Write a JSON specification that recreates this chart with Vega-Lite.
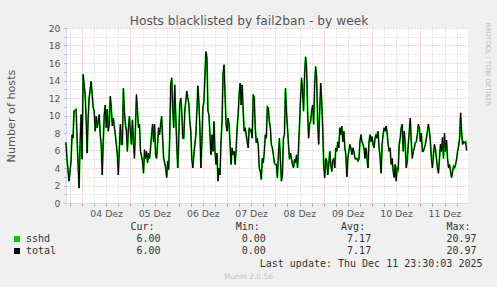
{
  "$schema": "https://vega.github.io/schema/vega-lite/v6.json",
  "width": 402,
  "height": 175,
  "autosize": {"type": "none"},
  "padding": {"left": 66, "top": 28, "right": 29, "bottom": 84},
  "background": "#f0f0f0",
  "config": {
    "view": {"fill": "#ffffff", "stroke": null},
    "font": "DejaVu Sans"
  },
  "datasets": {
    "series": [
      {"t": "2025-12-03T16:00", "sshd": 6.9, "total": 6.9},
      {"t": "2025-12-03T16:30", "sshd": 5.0, "total": 5.0},
      {"t": "2025-12-03T17:30", "sshd": 2.5, "total": 2.5},
      {"t": "2025-12-03T18:30", "sshd": 4.8, "total": 4.8},
      {"t": "2025-12-03T19:00", "sshd": 7.8, "total": 7.8},
      {"t": "2025-12-03T19:30", "sshd": 7.4, "total": 7.4},
      {"t": "2025-12-03T20:00", "sshd": 10.5, "total": 10.5},
      {"t": "2025-12-03T21:00", "sshd": 10.7, "total": 10.7},
      {"t": "2025-12-03T21:30", "sshd": 7.4, "total": 7.4},
      {"t": "2025-12-03T22:00", "sshd": 4.4, "total": 4.4},
      {"t": "2025-12-03T22:30", "sshd": 1.7, "total": 1.7},
      {"t": "2025-12-03T23:00", "sshd": 6.7, "total": 6.7},
      {"t": "2025-12-03T23:30", "sshd": 10.1, "total": 10.1},
      {"t": "2025-12-04T00:00", "sshd": 5.0, "total": 5.0},
      {"t": "2025-12-04T00:30", "sshd": 14.7, "total": 14.7},
      {"t": "2025-12-04T01:30", "sshd": 12.4, "total": 12.4},
      {"t": "2025-12-04T02:00", "sshd": 9.7, "total": 9.7},
      {"t": "2025-12-04T02:30", "sshd": 5.7, "total": 5.7},
      {"t": "2025-12-04T03:00", "sshd": 9.7, "total": 9.7},
      {"t": "2025-12-04T03:30", "sshd": 12.0, "total": 12.0},
      {"t": "2025-12-04T04:30", "sshd": 13.9, "total": 13.9},
      {"t": "2025-12-04T05:00", "sshd": 12.4, "total": 12.4},
      {"t": "2025-12-04T05:30", "sshd": 10.9, "total": 10.9},
      {"t": "2025-12-04T06:00", "sshd": 10.5, "total": 10.5},
      {"t": "2025-12-04T06:30", "sshd": 8.2, "total": 8.2},
      {"t": "2025-12-04T07:00", "sshd": 9.9, "total": 9.9},
      {"t": "2025-12-04T07:30", "sshd": 8.6, "total": 8.6},
      {"t": "2025-12-04T08:30", "sshd": 10.1, "total": 10.1},
      {"t": "2025-12-04T09:00", "sshd": 7.8, "total": 7.8},
      {"t": "2025-12-04T09:30", "sshd": 6.7, "total": 6.7},
      {"t": "2025-12-04T10:00", "sshd": 3.2, "total": 3.2},
      {"t": "2025-12-04T10:30", "sshd": 6.9, "total": 6.9},
      {"t": "2025-12-04T11:00", "sshd": 10.1, "total": 10.1},
      {"t": "2025-12-04T11:30", "sshd": 11.2, "total": 11.2},
      {"t": "2025-12-04T12:00", "sshd": 8.6, "total": 8.6},
      {"t": "2025-12-04T12:30", "sshd": 10.7, "total": 10.7},
      {"t": "2025-12-04T13:00", "sshd": 8.2, "total": 8.2},
      {"t": "2025-12-04T13:30", "sshd": 9.0, "total": 9.0},
      {"t": "2025-12-04T14:00", "sshd": 12.2, "total": 12.2},
      {"t": "2025-12-04T14:30", "sshd": 10.9, "total": 10.9},
      {"t": "2025-12-04T15:00", "sshd": 8.8, "total": 8.8},
      {"t": "2025-12-04T15:30", "sshd": 9.7, "total": 9.7},
      {"t": "2025-12-04T16:30", "sshd": 7.8, "total": 7.8},
      {"t": "2025-12-04T17:00", "sshd": 6.7, "total": 6.7},
      {"t": "2025-12-04T17:30", "sshd": 5.5, "total": 5.5},
      {"t": "2025-12-04T18:00", "sshd": 3.2, "total": 3.2},
      {"t": "2025-12-04T18:30", "sshd": 6.3, "total": 6.3},
      {"t": "2025-12-04T19:00", "sshd": 9.0, "total": 9.0},
      {"t": "2025-12-04T19:30", "sshd": 6.7, "total": 6.7},
      {"t": "2025-12-04T20:00", "sshd": 6.7, "total": 6.7},
      {"t": "2025-12-04T20:30", "sshd": 13.1, "total": 13.1},
      {"t": "2025-12-04T21:00", "sshd": 10.5, "total": 10.5},
      {"t": "2025-12-04T21:30", "sshd": 9.0, "total": 9.0},
      {"t": "2025-12-04T22:00", "sshd": 8.2, "total": 8.2},
      {"t": "2025-12-04T22:30", "sshd": 5.9, "total": 5.9},
      {"t": "2025-12-04T23:00", "sshd": 8.6, "total": 8.6},
      {"t": "2025-12-04T23:30", "sshd": 9.9, "total": 9.9},
      {"t": "2025-12-05T00:00", "sshd": 8.2, "total": 8.2},
      {"t": "2025-12-05T00:30", "sshd": 6.7, "total": 6.7},
      {"t": "2025-12-05T01:00", "sshd": 9.5, "total": 9.5},
      {"t": "2025-12-05T01:30", "sshd": 7.0, "total": 7.0},
      {"t": "2025-12-05T02:00", "sshd": 5.1, "total": 5.1},
      {"t": "2025-12-05T02:30", "sshd": 8.6, "total": 8.6},
      {"t": "2025-12-05T03:00", "sshd": 12.4, "total": 12.4},
      {"t": "2025-12-05T03:30", "sshd": 10.5, "total": 10.5},
      {"t": "2025-12-05T04:00", "sshd": 8.6, "total": 8.6},
      {"t": "2025-12-05T04:30", "sshd": 9.0, "total": 9.0},
      {"t": "2025-12-05T05:00", "sshd": 5.9, "total": 5.9},
      {"t": "2025-12-05T06:00", "sshd": 4.8, "total": 4.8},
      {"t": "2025-12-05T06:30", "sshd": 3.4, "total": 3.4},
      {"t": "2025-12-05T07:00", "sshd": 6.1, "total": 6.1},
      {"t": "2025-12-05T07:30", "sshd": 5.1, "total": 5.1},
      {"t": "2025-12-05T08:00", "sshd": 5.9, "total": 5.9},
      {"t": "2025-12-05T08:30", "sshd": 4.6, "total": 4.6},
      {"t": "2025-12-05T09:00", "sshd": 5.7, "total": 5.7},
      {"t": "2025-12-05T09:30", "sshd": 5.1, "total": 5.1},
      {"t": "2025-12-05T10:00", "sshd": 6.3, "total": 6.3},
      {"t": "2025-12-05T10:30", "sshd": 7.8, "total": 7.8},
      {"t": "2025-12-05T11:00", "sshd": 9.0, "total": 9.0},
      {"t": "2025-12-05T11:30", "sshd": 7.0, "total": 7.0},
      {"t": "2025-12-05T12:00", "sshd": 9.0, "total": 9.0},
      {"t": "2025-12-05T12:30", "sshd": 5.5, "total": 5.5},
      {"t": "2025-12-05T13:00", "sshd": 5.1, "total": 5.1},
      {"t": "2025-12-05T14:00", "sshd": 8.6, "total": 8.6},
      {"t": "2025-12-05T14:30", "sshd": 7.8, "total": 7.8},
      {"t": "2025-12-05T15:00", "sshd": 9.0, "total": 9.0},
      {"t": "2025-12-05T15:30", "sshd": 9.9, "total": 9.9},
      {"t": "2025-12-05T16:00", "sshd": 7.4, "total": 7.4},
      {"t": "2025-12-05T16:30", "sshd": 5.1, "total": 5.1},
      {"t": "2025-12-05T17:00", "sshd": 4.6, "total": 4.6},
      {"t": "2025-12-05T17:30", "sshd": 4.0, "total": 4.0},
      {"t": "2025-12-05T18:00", "sshd": 2.9, "total": 2.9},
      {"t": "2025-12-05T18:30", "sshd": 4.8, "total": 4.8},
      {"t": "2025-12-05T19:00", "sshd": 3.8, "total": 3.8},
      {"t": "2025-12-05T19:30", "sshd": 7.4, "total": 7.4},
      {"t": "2025-12-05T20:00", "sshd": 13.5, "total": 13.5},
      {"t": "2025-12-05T20:30", "sshd": 14.3, "total": 14.3},
      {"t": "2025-12-05T21:00", "sshd": 10.9, "total": 10.9},
      {"t": "2025-12-05T21:30", "sshd": 8.6, "total": 8.6},
      {"t": "2025-12-05T22:00", "sshd": 13.5, "total": 13.5},
      {"t": "2025-12-05T22:30", "sshd": 10.1, "total": 10.1},
      {"t": "2025-12-05T23:00", "sshd": 6.7, "total": 6.7},
      {"t": "2025-12-05T23:30", "sshd": 4.0, "total": 4.0},
      {"t": "2025-12-06T00:00", "sshd": 7.4, "total": 7.4},
      {"t": "2025-12-06T00:30", "sshd": 11.2, "total": 11.2},
      {"t": "2025-12-06T01:00", "sshd": 12.0, "total": 12.0},
      {"t": "2025-12-06T01:30", "sshd": 10.5, "total": 10.5},
      {"t": "2025-12-06T02:00", "sshd": 7.4, "total": 7.4},
      {"t": "2025-12-06T02:30", "sshd": 7.4, "total": 7.4},
      {"t": "2025-12-06T03:00", "sshd": 10.5, "total": 10.5},
      {"t": "2025-12-06T04:00", "sshd": 12.8, "total": 12.8},
      {"t": "2025-12-06T04:30", "sshd": 12.0, "total": 12.0},
      {"t": "2025-12-06T05:00", "sshd": 11.4, "total": 11.4},
      {"t": "2025-12-06T05:30", "sshd": 9.3, "total": 9.3},
      {"t": "2025-12-06T06:00", "sshd": 8.2, "total": 8.2},
      {"t": "2025-12-06T06:30", "sshd": 5.0, "total": 5.0},
      {"t": "2025-12-06T07:00", "sshd": 4.0, "total": 4.0},
      {"t": "2025-12-06T07:30", "sshd": 5.5, "total": 5.5},
      {"t": "2025-12-06T08:00", "sshd": 6.7, "total": 6.7},
      {"t": "2025-12-06T08:30", "sshd": 7.8, "total": 7.8},
      {"t": "2025-12-06T09:00", "sshd": 10.5, "total": 10.5},
      {"t": "2025-12-06T09:30", "sshd": 13.4, "total": 13.4},
      {"t": "2025-12-06T10:00", "sshd": 11.5, "total": 11.5},
      {"t": "2025-12-06T10:30", "sshd": 8.6, "total": 8.6},
      {"t": "2025-12-06T11:00", "sshd": 4.0, "total": 4.0},
      {"t": "2025-12-06T11:30", "sshd": 7.0, "total": 7.0},
      {"t": "2025-12-06T12:00", "sshd": 10.9, "total": 10.9},
      {"t": "2025-12-06T12:30", "sshd": 11.6, "total": 11.6},
      {"t": "2025-12-06T13:30", "sshd": 17.3, "total": 17.3},
      {"t": "2025-12-06T14:00", "sshd": 16.6, "total": 16.6},
      {"t": "2025-12-06T14:30", "sshd": 10.5, "total": 10.5},
      {"t": "2025-12-06T15:00", "sshd": 10.1, "total": 10.1},
      {"t": "2025-12-06T15:30", "sshd": 7.8, "total": 7.8},
      {"t": "2025-12-06T16:00", "sshd": 5.5, "total": 5.5},
      {"t": "2025-12-06T16:30", "sshd": 7.8, "total": 7.8},
      {"t": "2025-12-06T17:00", "sshd": 5.9, "total": 5.9},
      {"t": "2025-12-06T17:30", "sshd": 9.3, "total": 9.3},
      {"t": "2025-12-06T18:00", "sshd": 5.9, "total": 5.9},
      {"t": "2025-12-06T18:30", "sshd": 4.4, "total": 4.4},
      {"t": "2025-12-06T19:00", "sshd": 5.7, "total": 5.7},
      {"t": "2025-12-06T19:30", "sshd": 2.5, "total": 2.5},
      {"t": "2025-12-06T20:00", "sshd": 4.0, "total": 4.0},
      {"t": "2025-12-06T20:30", "sshd": 3.2, "total": 3.2},
      {"t": "2025-12-06T21:00", "sshd": 7.0, "total": 7.0},
      {"t": "2025-12-06T21:30", "sshd": 9.3, "total": 9.3},
      {"t": "2025-12-06T22:00", "sshd": 14.7, "total": 14.7},
      {"t": "2025-12-06T22:30", "sshd": 15.8, "total": 15.8},
      {"t": "2025-12-06T23:00", "sshd": 12.4, "total": 12.4},
      {"t": "2025-12-06T23:30", "sshd": 9.0, "total": 9.0},
      {"t": "2025-12-07T00:00", "sshd": 8.2, "total": 8.2},
      {"t": "2025-12-07T00:30", "sshd": 9.7, "total": 9.7},
      {"t": "2025-12-07T01:00", "sshd": 9.0, "total": 9.0},
      {"t": "2025-12-07T01:30", "sshd": 6.7, "total": 6.7},
      {"t": "2025-12-07T02:00", "sshd": 4.4, "total": 4.4},
      {"t": "2025-12-07T02:30", "sshd": 6.3, "total": 6.3},
      {"t": "2025-12-07T03:00", "sshd": 5.5, "total": 5.5},
      {"t": "2025-12-07T03:30", "sshd": 5.9, "total": 5.9},
      {"t": "2025-12-07T04:00", "sshd": 4.4, "total": 4.4},
      {"t": "2025-12-07T04:30", "sshd": 6.1, "total": 6.1},
      {"t": "2025-12-07T05:00", "sshd": 8.6, "total": 8.6},
      {"t": "2025-12-07T05:30", "sshd": 10.1, "total": 10.1},
      {"t": "2025-12-07T06:00", "sshd": 12.4, "total": 12.4},
      {"t": "2025-12-07T06:30", "sshd": 13.7, "total": 13.7},
      {"t": "2025-12-07T07:00", "sshd": 11.2, "total": 11.2},
      {"t": "2025-12-07T07:30", "sshd": 13.5, "total": 13.5},
      {"t": "2025-12-07T08:00", "sshd": 10.5, "total": 10.5},
      {"t": "2025-12-07T08:30", "sshd": 8.2, "total": 8.2},
      {"t": "2025-12-07T09:00", "sshd": 8.6, "total": 8.6},
      {"t": "2025-12-07T09:30", "sshd": 7.8, "total": 7.8},
      {"t": "2025-12-07T10:00", "sshd": 7.0, "total": 7.0},
      {"t": "2025-12-07T10:30", "sshd": 6.3, "total": 6.3},
      {"t": "2025-12-07T11:00", "sshd": 8.6, "total": 8.6},
      {"t": "2025-12-07T11:30", "sshd": 8.2, "total": 8.2},
      {"t": "2025-12-07T12:00", "sshd": 8.4, "total": 8.4},
      {"t": "2025-12-07T12:30", "sshd": 7.4, "total": 7.4},
      {"t": "2025-12-07T13:00", "sshd": 12.4, "total": 12.4},
      {"t": "2025-12-07T13:30", "sshd": 12.0, "total": 12.0},
      {"t": "2025-12-07T14:00", "sshd": 8.6, "total": 8.6},
      {"t": "2025-12-07T14:30", "sshd": 6.9, "total": 6.9},
      {"t": "2025-12-07T15:00", "sshd": 7.4, "total": 7.4},
      {"t": "2025-12-07T15:30", "sshd": 6.5, "total": 6.5},
      {"t": "2025-12-07T16:00", "sshd": 4.0, "total": 4.0},
      {"t": "2025-12-07T16:30", "sshd": 3.6, "total": 3.6},
      {"t": "2025-12-07T17:00", "sshd": 2.7, "total": 2.7},
      {"t": "2025-12-07T17:30", "sshd": 5.1, "total": 5.1},
      {"t": "2025-12-07T18:00", "sshd": 4.6, "total": 4.6},
      {"t": "2025-12-07T18:30", "sshd": 5.9, "total": 5.9},
      {"t": "2025-12-07T19:00", "sshd": 7.8, "total": 7.8},
      {"t": "2025-12-07T19:30", "sshd": 7.4, "total": 7.4},
      {"t": "2025-12-07T20:00", "sshd": 11.0, "total": 11.0},
      {"t": "2025-12-07T20:30", "sshd": 10.9, "total": 10.9},
      {"t": "2025-12-07T21:00", "sshd": 9.3, "total": 9.3},
      {"t": "2025-12-07T21:30", "sshd": 8.6, "total": 8.6},
      {"t": "2025-12-07T22:00", "sshd": 6.7, "total": 6.7},
      {"t": "2025-12-07T22:30", "sshd": 6.3, "total": 6.3},
      {"t": "2025-12-07T23:00", "sshd": 5.5, "total": 5.5},
      {"t": "2025-12-07T23:30", "sshd": 4.6, "total": 4.6},
      {"t": "2025-12-08T00:00", "sshd": 4.4, "total": 4.4},
      {"t": "2025-12-08T00:30", "sshd": 4.4, "total": 4.4},
      {"t": "2025-12-08T01:00", "sshd": 2.9, "total": 2.9},
      {"t": "2025-12-08T01:30", "sshd": 5.5, "total": 5.5},
      {"t": "2025-12-08T02:00", "sshd": 7.4, "total": 7.4},
      {"t": "2025-12-08T02:30", "sshd": 4.8, "total": 4.8},
      {"t": "2025-12-08T03:00", "sshd": 2.5, "total": 2.5},
      {"t": "2025-12-08T03:30", "sshd": 3.2, "total": 3.2},
      {"t": "2025-12-08T04:00", "sshd": 7.4, "total": 7.4},
      {"t": "2025-12-08T04:30", "sshd": 7.8, "total": 7.8},
      {"t": "2025-12-08T05:00", "sshd": 13.1, "total": 13.1},
      {"t": "2025-12-08T05:30", "sshd": 10.5, "total": 10.5},
      {"t": "2025-12-08T06:00", "sshd": 8.6, "total": 8.6},
      {"t": "2025-12-08T06:30", "sshd": 6.7, "total": 6.7},
      {"t": "2025-12-08T07:00", "sshd": 5.0, "total": 5.0},
      {"t": "2025-12-08T07:30", "sshd": 5.7, "total": 5.7},
      {"t": "2025-12-08T08:00", "sshd": 5.1, "total": 5.1},
      {"t": "2025-12-08T08:30", "sshd": 4.4, "total": 4.4},
      {"t": "2025-12-08T09:00", "sshd": 4.0, "total": 4.0},
      {"t": "2025-12-08T09:30", "sshd": 5.0, "total": 5.0},
      {"t": "2025-12-08T10:00", "sshd": 4.6, "total": 4.6},
      {"t": "2025-12-08T10:30", "sshd": 5.5, "total": 5.5},
      {"t": "2025-12-08T11:00", "sshd": 4.0, "total": 4.0},
      {"t": "2025-12-08T11:30", "sshd": 6.3, "total": 6.3},
      {"t": "2025-12-08T12:00", "sshd": 9.0, "total": 9.0},
      {"t": "2025-12-08T12:30", "sshd": 12.0, "total": 12.0},
      {"t": "2025-12-08T13:00", "sshd": 14.3, "total": 14.3},
      {"t": "2025-12-08T13:30", "sshd": 12.8, "total": 12.8},
      {"t": "2025-12-08T14:00", "sshd": 10.5, "total": 10.5},
      {"t": "2025-12-08T14:30", "sshd": 14.7, "total": 14.7},
      {"t": "2025-12-08T15:00", "sshd": 16.7, "total": 16.7},
      {"t": "2025-12-08T15:30", "sshd": 15.4, "total": 15.4},
      {"t": "2025-12-08T16:00", "sshd": 10.5, "total": 10.5},
      {"t": "2025-12-08T16:30", "sshd": 7.4, "total": 7.4},
      {"t": "2025-12-08T17:00", "sshd": 9.0, "total": 9.0},
      {"t": "2025-12-08T17:30", "sshd": 9.3, "total": 9.3},
      {"t": "2025-12-08T18:00", "sshd": 10.5, "total": 10.5},
      {"t": "2025-12-08T18:30", "sshd": 11.2, "total": 11.2},
      {"t": "2025-12-08T19:00", "sshd": 9.0, "total": 9.0},
      {"t": "2025-12-08T19:30", "sshd": 13.5, "total": 13.5},
      {"t": "2025-12-08T20:00", "sshd": 15.6, "total": 15.6},
      {"t": "2025-12-08T20:30", "sshd": 14.3, "total": 14.3},
      {"t": "2025-12-08T21:00", "sshd": 9.3, "total": 9.3},
      {"t": "2025-12-08T21:30", "sshd": 6.7, "total": 6.7},
      {"t": "2025-12-08T22:00", "sshd": 10.5, "total": 10.5},
      {"t": "2025-12-08T22:30", "sshd": 13.7, "total": 13.7},
      {"t": "2025-12-08T23:00", "sshd": 11.6, "total": 11.6},
      {"t": "2025-12-08T23:30", "sshd": 8.6, "total": 8.6},
      {"t": "2025-12-09T00:00", "sshd": 4.4, "total": 4.4},
      {"t": "2025-12-09T00:30", "sshd": 2.9, "total": 2.9},
      {"t": "2025-12-09T01:00", "sshd": 5.1, "total": 5.1},
      {"t": "2025-12-09T01:30", "sshd": 4.8, "total": 4.8},
      {"t": "2025-12-09T02:00", "sshd": 3.2, "total": 3.2},
      {"t": "2025-12-09T02:30", "sshd": 4.4, "total": 4.4},
      {"t": "2025-12-09T03:00", "sshd": 5.9, "total": 5.9},
      {"t": "2025-12-09T03:30", "sshd": 4.4, "total": 4.4},
      {"t": "2025-12-09T04:00", "sshd": 3.6, "total": 3.6},
      {"t": "2025-12-09T04:30", "sshd": 4.8, "total": 4.8},
      {"t": "2025-12-09T05:00", "sshd": 5.1, "total": 5.1},
      {"t": "2025-12-09T05:30", "sshd": 4.0, "total": 4.0},
      {"t": "2025-12-09T06:00", "sshd": 6.3, "total": 6.3},
      {"t": "2025-12-09T06:30", "sshd": 5.9, "total": 5.9},
      {"t": "2025-12-09T07:00", "sshd": 7.0, "total": 7.0},
      {"t": "2025-12-09T07:30", "sshd": 6.3, "total": 6.3},
      {"t": "2025-12-09T08:00", "sshd": 8.6, "total": 8.6},
      {"t": "2025-12-09T08:30", "sshd": 7.8, "total": 7.8},
      {"t": "2025-12-09T09:00", "sshd": 8.8, "total": 8.8},
      {"t": "2025-12-09T09:30", "sshd": 7.0, "total": 7.0},
      {"t": "2025-12-09T10:00", "sshd": 8.2, "total": 8.2},
      {"t": "2025-12-09T10:30", "sshd": 6.3, "total": 6.3},
      {"t": "2025-12-09T11:00", "sshd": 5.5, "total": 5.5},
      {"t": "2025-12-09T11:30", "sshd": 3.0, "total": 3.0},
      {"t": "2025-12-09T12:00", "sshd": 5.1, "total": 5.1},
      {"t": "2025-12-09T12:30", "sshd": 5.9, "total": 5.9},
      {"t": "2025-12-09T13:00", "sshd": 6.7, "total": 6.7},
      {"t": "2025-12-09T13:30", "sshd": 6.3, "total": 6.3},
      {"t": "2025-12-09T14:00", "sshd": 5.5, "total": 5.5},
      {"t": "2025-12-09T14:30", "sshd": 6.3, "total": 6.3},
      {"t": "2025-12-09T15:00", "sshd": 5.9, "total": 5.9},
      {"t": "2025-12-09T15:30", "sshd": 5.1, "total": 5.1},
      {"t": "2025-12-09T16:00", "sshd": 5.0, "total": 5.0},
      {"t": "2025-12-09T16:30", "sshd": 5.1, "total": 5.1},
      {"t": "2025-12-09T17:00", "sshd": 4.8, "total": 4.8},
      {"t": "2025-12-09T17:30", "sshd": 5.0, "total": 5.0},
      {"t": "2025-12-09T18:00", "sshd": 7.0, "total": 7.0},
      {"t": "2025-12-09T18:30", "sshd": 7.8, "total": 7.8},
      {"t": "2025-12-09T19:00", "sshd": 7.0, "total": 7.0},
      {"t": "2025-12-09T19:30", "sshd": 6.7, "total": 6.7},
      {"t": "2025-12-09T20:00", "sshd": 6.3, "total": 6.3},
      {"t": "2025-12-09T20:30", "sshd": 5.1, "total": 5.1},
      {"t": "2025-12-09T21:00", "sshd": 6.3, "total": 6.3},
      {"t": "2025-12-09T21:30", "sshd": 5.1, "total": 5.1},
      {"t": "2025-12-09T22:00", "sshd": 4.0, "total": 4.0},
      {"t": "2025-12-09T22:30", "sshd": 7.0, "total": 7.0},
      {"t": "2025-12-09T23:00", "sshd": 7.8, "total": 7.8},
      {"t": "2025-12-09T23:30", "sshd": 7.0, "total": 7.0},
      {"t": "2025-12-10T00:00", "sshd": 7.6, "total": 7.6},
      {"t": "2025-12-10T00:30", "sshd": 6.7, "total": 6.7},
      {"t": "2025-12-10T01:00", "sshd": 6.3, "total": 6.3},
      {"t": "2025-12-10T01:30", "sshd": 7.4, "total": 7.4},
      {"t": "2025-12-10T02:00", "sshd": 7.8, "total": 7.8},
      {"t": "2025-12-10T02:30", "sshd": 7.4, "total": 7.4},
      {"t": "2025-12-10T03:00", "sshd": 8.2, "total": 8.2},
      {"t": "2025-12-10T03:30", "sshd": 6.3, "total": 6.3},
      {"t": "2025-12-10T04:00", "sshd": 5.3, "total": 5.3},
      {"t": "2025-12-10T04:30", "sshd": 3.4, "total": 3.4},
      {"t": "2025-12-10T05:00", "sshd": 6.7, "total": 6.7},
      {"t": "2025-12-10T05:30", "sshd": 7.8, "total": 7.8},
      {"t": "2025-12-10T06:00", "sshd": 8.6, "total": 8.6},
      {"t": "2025-12-10T06:30", "sshd": 8.2, "total": 8.2},
      {"t": "2025-12-10T07:00", "sshd": 8.8, "total": 8.8},
      {"t": "2025-12-10T07:30", "sshd": 8.0, "total": 8.0},
      {"t": "2025-12-10T08:00", "sshd": 6.7, "total": 6.7},
      {"t": "2025-12-10T08:30", "sshd": 5.9, "total": 5.9},
      {"t": "2025-12-10T09:00", "sshd": 6.3, "total": 6.3},
      {"t": "2025-12-10T09:30", "sshd": 4.4, "total": 4.4},
      {"t": "2025-12-10T10:00", "sshd": 5.1, "total": 5.1},
      {"t": "2025-12-10T10:30", "sshd": 3.6, "total": 3.6},
      {"t": "2025-12-10T11:00", "sshd": 2.9, "total": 2.9},
      {"t": "2025-12-10T11:30", "sshd": 4.4, "total": 4.4},
      {"t": "2025-12-10T12:00", "sshd": 2.5, "total": 2.5},
      {"t": "2025-12-10T12:30", "sshd": 4.0, "total": 4.0},
      {"t": "2025-12-10T13:00", "sshd": 3.8, "total": 3.8},
      {"t": "2025-12-10T13:30", "sshd": 6.7, "total": 6.7},
      {"t": "2025-12-10T14:00", "sshd": 7.4, "total": 7.4},
      {"t": "2025-12-10T14:30", "sshd": 8.6, "total": 8.6},
      {"t": "2025-12-10T15:00", "sshd": 9.0, "total": 9.0},
      {"t": "2025-12-10T15:30", "sshd": 5.9, "total": 5.9},
      {"t": "2025-12-10T16:00", "sshd": 8.2, "total": 8.2},
      {"t": "2025-12-10T16:30", "sshd": 6.7, "total": 6.7},
      {"t": "2025-12-10T17:00", "sshd": 4.0, "total": 4.0},
      {"t": "2025-12-10T17:30", "sshd": 4.8, "total": 4.8},
      {"t": "2025-12-10T18:00", "sshd": 6.7, "total": 6.7},
      {"t": "2025-12-10T18:30", "sshd": 8.2, "total": 8.2},
      {"t": "2025-12-10T19:00", "sshd": 9.7, "total": 9.7},
      {"t": "2025-12-10T19:30", "sshd": 7.0, "total": 7.0},
      {"t": "2025-12-10T20:00", "sshd": 5.1, "total": 5.1},
      {"t": "2025-12-10T20:30", "sshd": 5.9, "total": 5.9},
      {"t": "2025-12-10T21:00", "sshd": 6.3, "total": 6.3},
      {"t": "2025-12-10T21:30", "sshd": 6.9, "total": 6.9},
      {"t": "2025-12-10T22:00", "sshd": 7.0, "total": 7.0},
      {"t": "2025-12-10T22:30", "sshd": 7.8, "total": 7.8},
      {"t": "2025-12-10T23:00", "sshd": 9.0, "total": 9.0},
      {"t": "2025-12-10T23:30", "sshd": 8.6, "total": 8.6},
      {"t": "2025-12-11T00:00", "sshd": 7.0, "total": 7.0},
      {"t": "2025-12-11T00:30", "sshd": 8.0, "total": 8.0},
      {"t": "2025-12-11T01:00", "sshd": 5.9, "total": 5.9},
      {"t": "2025-12-11T01:30", "sshd": 5.9, "total": 5.9},
      {"t": "2025-12-11T02:00", "sshd": 6.3, "total": 6.3},
      {"t": "2025-12-11T02:30", "sshd": 6.7, "total": 6.7},
      {"t": "2025-12-11T03:00", "sshd": 7.4, "total": 7.4},
      {"t": "2025-12-11T03:30", "sshd": 8.2, "total": 8.2},
      {"t": "2025-12-11T04:00", "sshd": 9.0, "total": 9.0},
      {"t": "2025-12-11T04:30", "sshd": 8.2, "total": 8.2},
      {"t": "2025-12-11T05:00", "sshd": 7.0, "total": 7.0},
      {"t": "2025-12-11T05:30", "sshd": 5.1, "total": 5.1},
      {"t": "2025-12-11T06:00", "sshd": 4.0, "total": 4.0},
      {"t": "2025-12-11T06:30", "sshd": 5.5, "total": 5.5},
      {"t": "2025-12-11T07:00", "sshd": 6.7, "total": 6.7},
      {"t": "2025-12-11T07:30", "sshd": 6.1, "total": 6.1},
      {"t": "2025-12-11T08:00", "sshd": 5.1, "total": 5.1},
      {"t": "2025-12-11T08:30", "sshd": 4.0, "total": 4.0},
      {"t": "2025-12-11T09:00", "sshd": 3.4, "total": 3.4},
      {"t": "2025-12-11T09:30", "sshd": 5.1, "total": 5.1},
      {"t": "2025-12-11T10:00", "sshd": 6.7, "total": 6.7},
      {"t": "2025-12-11T10:30", "sshd": 5.9, "total": 5.9},
      {"t": "2025-12-11T11:00", "sshd": 7.5, "total": 7.5},
      {"t": "2025-12-11T11:30", "sshd": 5.1, "total": 5.1},
      {"t": "2025-12-11T12:00", "sshd": 8.0, "total": 8.0},
      {"t": "2025-12-11T12:30", "sshd": 5.9, "total": 5.9},
      {"t": "2025-12-11T13:00", "sshd": 7.2, "total": 7.2},
      {"t": "2025-12-11T13:30", "sshd": 5.1, "total": 5.1},
      {"t": "2025-12-11T14:00", "sshd": 4.0, "total": 4.0},
      {"t": "2025-12-11T14:30", "sshd": 4.4, "total": 4.4},
      {"t": "2025-12-11T15:00", "sshd": 3.6, "total": 3.6},
      {"t": "2025-12-11T15:30", "sshd": 2.9, "total": 2.9},
      {"t": "2025-12-11T16:00", "sshd": 3.6, "total": 3.6},
      {"t": "2025-12-11T16:30", "sshd": 4.2, "total": 4.2},
      {"t": "2025-12-11T17:00", "sshd": 4.0, "total": 4.0},
      {"t": "2025-12-11T17:30", "sshd": 4.4, "total": 4.4},
      {"t": "2025-12-11T18:00", "sshd": 5.0, "total": 5.0},
      {"t": "2025-12-11T18:30", "sshd": 5.9, "total": 5.9},
      {"t": "2025-12-11T19:00", "sshd": 6.5, "total": 6.5},
      {"t": "2025-12-11T19:30", "sshd": 7.4, "total": 7.4},
      {"t": "2025-12-11T20:00", "sshd": 10.3, "total": 10.3},
      {"t": "2025-12-11T20:30", "sshd": 8.0, "total": 8.0},
      {"t": "2025-12-11T21:00", "sshd": 6.7, "total": 6.7},
      {"t": "2025-12-11T21:30", "sshd": 7.0, "total": 7.0},
      {"t": "2025-12-11T22:00", "sshd": 6.9, "total": 6.9},
      {"t": "2025-12-11T22:30", "sshd": 7.0, "total": 7.0},
      {"t": "2025-12-11T23:00", "sshd": 6.0, "total": 6.0}
    ],
    "stats": [
      {"row": "sshd", "stat": "Cur", "value": "6.00"},
      {"row": "sshd", "stat": "Min", "value": "0.00"},
      {"row": "sshd", "stat": "Avg", "value": "7.17"},
      {"row": "sshd", "stat": "Max", "value": "20.97"},
      {"row": "total", "stat": "Cur", "value": "6.00"},
      {"row": "total", "stat": "Min", "value": "0.00"},
      {"row": "total", "stat": "Avg", "value": "7.17"},
      {"row": "total", "stat": "Max", "value": "20.97"}
    ],
    "heads": [
      {"row": "head", "stat": "Cur", "label": "Cur:"},
      {"row": "head", "stat": "Min", "label": "Min:"},
      {"row": "head", "stat": "Avg", "label": "Avg:"},
      {"row": "head", "stat": "Max", "label": "Max:"}
    ],
    "names": [
      {"row": "sshd"},
      {"row": "total"}
    ]
  },
  "resolve": {"scale": {"x": "independent", "y": "independent"}},
  "layer": [
    {
      "data": {"name": "series"},
      "mark": {"type": "line", "strokeWidth": 1.8, "color": "#00cc00"},
      "encoding": {
        "x": {
          "field": "t", "type": "temporal",
          "scale": {"domain": [{"year": 2025, "month": 12, "date": 3, "hours": 16}, {"year": 2025, "month": 12, "date": 11, "hours": 23, "minutes": 40}]},
          "axis": {
            "orient": "bottom",
            "values": [
              {"year": 2025, "month": 12, "date": 3, "hours": 18},
              {"year": 2025, "month": 12, "date": 4, "hours": 0},
              {"year": 2025, "month": 12, "date": 4, "hours": 6},
              {"year": 2025, "month": 12, "date": 4, "hours": 12},
              {"year": 2025, "month": 12, "date": 4, "hours": 18},
              {"year": 2025, "month": 12, "date": 5, "hours": 0},
              {"year": 2025, "month": 12, "date": 5, "hours": 6},
              {"year": 2025, "month": 12, "date": 5, "hours": 12},
              {"year": 2025, "month": 12, "date": 5, "hours": 18},
              {"year": 2025, "month": 12, "date": 6, "hours": 0},
              {"year": 2025, "month": 12, "date": 6, "hours": 6},
              {"year": 2025, "month": 12, "date": 6, "hours": 12},
              {"year": 2025, "month": 12, "date": 6, "hours": 18},
              {"year": 2025, "month": 12, "date": 7, "hours": 0},
              {"year": 2025, "month": 12, "date": 7, "hours": 6},
              {"year": 2025, "month": 12, "date": 7, "hours": 12},
              {"year": 2025, "month": 12, "date": 7, "hours": 18},
              {"year": 2025, "month": 12, "date": 8, "hours": 0},
              {"year": 2025, "month": 12, "date": 8, "hours": 6},
              {"year": 2025, "month": 12, "date": 8, "hours": 12},
              {"year": 2025, "month": 12, "date": 8, "hours": 18},
              {"year": 2025, "month": 12, "date": 9, "hours": 0},
              {"year": 2025, "month": 12, "date": 9, "hours": 6},
              {"year": 2025, "month": 12, "date": 9, "hours": 12},
              {"year": 2025, "month": 12, "date": 9, "hours": 18},
              {"year": 2025, "month": 12, "date": 10, "hours": 0},
              {"year": 2025, "month": 12, "date": 10, "hours": 6},
              {"year": 2025, "month": 12, "date": 10, "hours": 12},
              {"year": 2025, "month": 12, "date": 10, "hours": 18},
              {"year": 2025, "month": 12, "date": 11, "hours": 0},
              {"year": 2025, "month": 12, "date": 11, "hours": 6},
              {"year": 2025, "month": 12, "date": 11, "hours": 12},
              {"year": 2025, "month": 12, "date": 11, "hours": 18}
            ],
            "grid": true,
            "gridColor": {"condition": {"test": "hours(datum.value) == 0", "value": "#e8a0a0"}, "value": "#cccccc"},
            "gridDash": [1, 2],
            "domain": true, "domainColor": "#cfd6f8",
            "ticks": true,
            "tickColor": {"condition": {"test": "hours(datum.value) == 0", "value": "#e08888"}, "value": "#aaaaaa"},
            "tickSize": 3,
            "labelExpr": "hours(datum.value) == 0 ? timeFormat(datum.value, '%d') + ' Dez' : ''",
            "labelOffset": 24,
            "labelFont": "DejaVu Sans", "labelFontSize": 9.3, "labelColor": "#555555",
            "labelPadding": 3, "labelFlush": false, "labelOverlap": false,
            "title": null
          }
        },
        "y": {
          "field": "sshd", "type": "quantitative",
          "scale": {"domain": [0, 20], "nice": false},
          "axis": {
            "orient": "left",
            "values": [0,1,2,3,4,5,6,7,8,9,10,11,12,13,14,15,16,17,18,19,20],
            "grid": true,
            "gridColor": {"condition": {"test": "datum.value % 2 == 0", "value": "#e8a0a0"}, "value": "#cccccc"},
            "gridDash": [1, 2],
            "domain": true, "domainColor": "#cfd6f8",
            "tickColor": {"condition": {"test": "datum.value % 2 == 0", "value": "#e08888"}, "value": "#aaaaaa"},
            "tickSize": 2,
            "labelExpr": "datum.value % 2 == 0 ? datum.label : ''",
            "labelFont": "DejaVu Sans", "labelFontSize": 9.3, "labelColor": "#555555", "labelPadding": 4,
            "labelOverlap": false,
            "title": "Number of hosts", "titleFont": "DejaVu Sans", "titleFontSize": 11.2, "titleFontWeight": "normal", "titleColor": "#555555",
            "titleX": -55, "titleY": 87.5, "titleAngle": 270, "titleAlign": "center", "titleBaseline": "middle"
          }
        }
      }
    },
    {
      "data": {"name": "series"},
      "mark": {"type": "line", "strokeWidth": 1, "color": "#000000"},
      "encoding": {
        "x": {
          "field": "t", "type": "temporal",
          "scale": {"domain": [{"year": 2025, "month": 12, "date": 3, "hours": 16}, {"year": 2025, "month": 12, "date": 11, "hours": 23, "minutes": 40}]},
          "axis": null
        },
        "y": {
          "field": "total", "type": "quantitative",
          "scale": {"domain": [0, 20], "nice": false},
          "axis": null
        }
      }
    },
    {
      "data": {"name": "stats"},
      "mark": {"type": "text", "align": "right", "baseline": "middle", "font": "DejaVu Sans Mono", "fontSize": 10, "color": "#333333"},
      "encoding": {
        "x": {
          "field": "stat", "type": "nominal",
          "scale": {"type": "point", "domain": ["Cur", "Min", "Avg", "Max"], "range": [94.5, 410.5], "padding": 0},
          "axis": {"orient": "bottom", "labels": false, "ticks": false, "domain": false, "grid": false, "title": "Last update: Thu Dec 11 23:30:03 2025", "titleFont": "DejaVu Sans Mono", "titleFontSize": 10, "titleFontWeight": "normal", "titleColor": "#333333", "titleX": 416, "titleY": 60, "titleAlign": "right", "titleBaseline": "middle"}
        },
        "y": {
          "field": "row", "type": "nominal",
          "scale": {"type": "point", "domain": ["head", "sshd", "total", "update", "munin"], "range": [199, 247], "padding": 0},
          "axis": {"orient": "right", "labels": false, "ticks": false, "domain": false, "grid": false, "title": "RRDTOOL / TOBI OETIKER", "titleFont": "DejaVu Sans", "titleFontSize": 6.5, "titleFontWeight": "normal", "titleColor": "#bbbbbb", "titleX": 19, "titleY": 36, "titleAngle": 90, "titleAlign": "center", "titleBaseline": "middle"}
        },
        "text": {"field": "value"}
      }
    },
    {
      "data": {"name": "heads"},
      "mark": {"type": "text", "align": "right", "baseline": "middle", "dx": -6, "font": "DejaVu Sans Mono", "fontSize": 10, "color": "#333333"},
      "encoding": {
        "x": {
          "field": "stat", "type": "nominal",
          "scale": {"type": "point", "domain": ["Cur", "Min", "Avg", "Max"], "range": [94.5, 410.5], "padding": 0},
          "axis": {"orient": "top", "labels": false, "ticks": false, "domain": false, "grid": false, "title": "Hosts blacklisted by fail2ban - by week", "titleFont": "DejaVu Sans", "titleFontSize": 12.2, "titleFontWeight": "normal", "titleColor": "#555555", "titleX": 182.5, "titleY": -4, "titleAlign": "center", "titleBaseline": "alphabetic"}
        },
        "y": {
          "field": "row", "type": "nominal",
          "scale": {"type": "point", "domain": ["head", "sshd", "total", "update", "munin"], "range": [199, 247], "padding": 0},
          "axis": null
        },
        "text": {"field": "label"}
      }
    },
    {
      "data": {"name": "names"},
      "mark": {"type": "text", "align": "left", "baseline": "middle", "font": "DejaVu Sans Mono", "fontSize": 10, "color": "#333333"},
      "encoding": {
        "x": {
          "datum": "name", "type": "nominal",
          "scale": {"type": "point", "domain": ["swatch", "name"], "range": [-49, -40], "padding": 0},
          "axis": {"orient": "bottom", "labels": false, "ticks": false, "domain": false, "grid": false, "title": "Munin 2.0.56", "titleFont": "DejaVu Sans", "titleFontSize": 7.5, "titleFontWeight": "normal", "titleColor": "#c4c4c4", "titleX": 182, "titleY": 73, "titleAlign": "center", "titleBaseline": "middle"}
        },
        "y": {
          "field": "row", "type": "nominal",
          "scale": {"type": "point", "domain": ["head", "sshd", "total", "update", "munin"], "range": [199, 247], "padding": 0},
          "axis": null
        },
        "text": {"field": "row"}
      }
    },
    {
      "data": {"name": "names"},
      "mark": {"type": "point", "shape": "square", "size": 36, "filled": true, "opacity": 1, "strokeWidth": 0},
      "encoding": {
        "x": {
          "datum": "swatch", "type": "nominal",
          "scale": {"type": "point", "domain": ["swatch", "name"], "range": [-49, -40], "padding": 0},
          "axis": null
        },
        "y": {
          "field": "row", "type": "nominal",
          "scale": {"type": "point", "domain": ["head", "sshd", "total", "update", "munin"], "range": [199, 247], "padding": 0},
          "axis": null
        },
        "color": {
          "field": "row", "type": "nominal",
          "scale": {"domain": ["sshd", "total"], "range": ["#00cc00", "#000000"]},
          "legend": null
        }
      }
    }
  ]
}
